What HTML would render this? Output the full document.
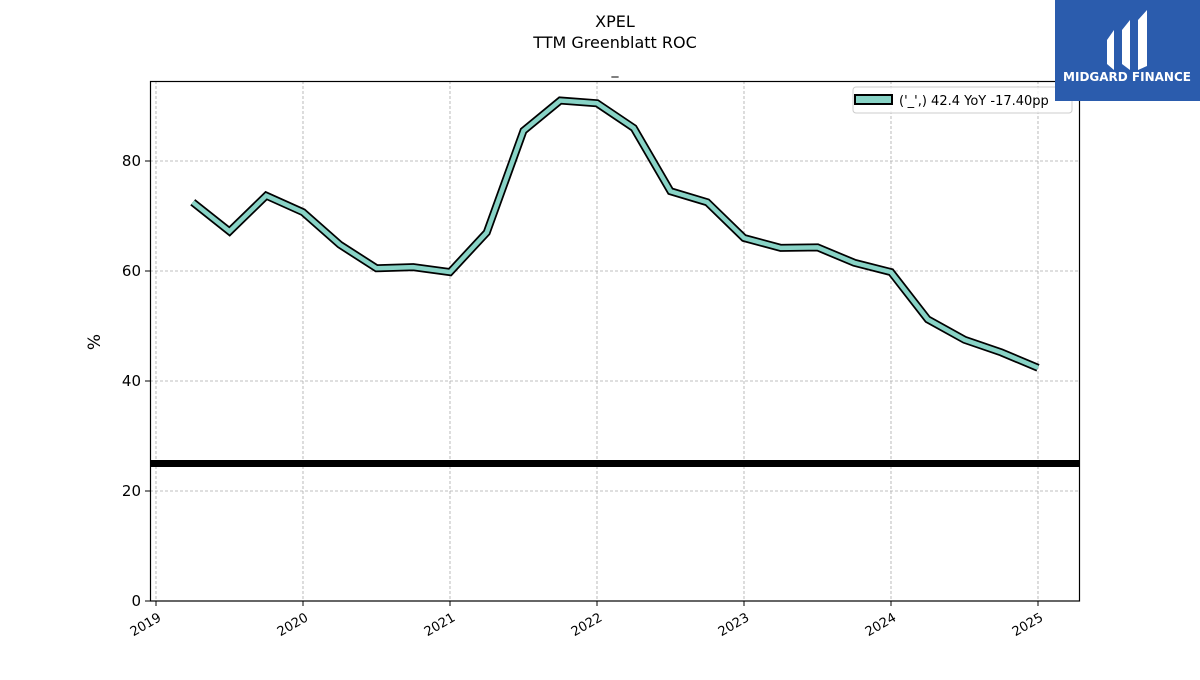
<!DOCTYPE html>
<html><head><meta charset="utf-8"><style>
body{margin:0;background:#fff;}
svg text{font-family:"DejaVu Sans","Liberation Sans",sans-serif;}
</style></head><body>
<svg id="chart" width="1200" height="675" xmlns="http://www.w3.org/2000/svg">
<text x="615" y="27" font-size="16" text-anchor="middle">XPEL</text>
<text x="615" y="48" font-size="16" text-anchor="middle">TTM Greenblatt ROC</text>
<text x="615" y="74" font-size="14" text-anchor="middle">_</text>
<g id="grid"></g>
<g id="axes"></g>
<g id="series"></g>
<rect x="150.5" y="81.5" width="929" height="519.5" fill="none" stroke="#000" stroke-width="1.2"/>
<text transform="translate(100,342) rotate(-90)" font-size="17" text-anchor="middle">%</text>
<g>
<rect x="853" y="87" width="219" height="26" rx="3" fill="#fff" fill-opacity="0.8" stroke="#ccc"/>
<rect x="855" y="95" width="37" height="9" fill="#88d3c6" stroke="#000" stroke-width="2"/>
<text x="899" y="105" font-size="13">('_',) 42.4 YoY -17.40pp</text>
</g>
<g>
<rect x="1055" y="0" width="145" height="101" fill="#2b5cad"/>
<path d="M1107 40 L1114 30 L1114 70 L1107 64 Z M1122 30 L1130 20 L1130 70 L1122 64 Z M1138 20 L1147 10 L1147 66 L1138 70 Z" fill="#fff"/>
<text x="1127" y="81" font-size="12" font-weight="bold" fill="#fff" text-anchor="middle">MIDGARD FINANCE</text>
</g>
</svg>
<script>
const dates=[2019.25,2019.5,2019.75,2020.0,2020.25,2020.5,2020.75,2021.0,2021.25,2021.5,2021.75,2022.0,2022.25,2022.5,2022.75,2023.0,2023.25,2023.5,2023.75,2024.0,2024.25,2024.5,2024.75,2025.0];
const roc=[72.5,67.2,73.7,70.7,64.8,60.5,60.7,59.8,67,85.5,91,90.5,86,74.5,72.5,66,64.2,64.3,61.5,59.8,51.2,47.5,45.2,42.4];
const yTicks=[0,20,40,60,80];
const xTicks=[2019,2020,2021,2022,2023,2024,2025];
const threshold=25;
const NS="http://www.w3.org/2000/svg";
const x=v=>156+(v-2019)*147;
const y=v=>601-v*5.5;
function mk(tag,attrs,parent){const e=document.createElementNS(NS,tag);for(const k in attrs)e.setAttribute(k,attrs[k]);parent.appendChild(e);return e;}
const grid=document.getElementById('grid'),axes=document.getElementById('axes'),ser=document.getElementById('series');
yTicks.forEach(t=>{
 const g=mk('line',{x1:150,x2:1080,y1:y(t),y2:y(t),stroke:'#aaa','stroke-dasharray':'3,2','stroke-width':0.8},grid);
 
 
 const tk=mk('line',{x1:145,x2:150,y1:y(t),y2:y(t),stroke:'#000'},axes);
 
 
 const tx=mk('text',{x:141,y:y(t)+5,'font-size':15,'text-anchor':'end'},axes);
 tx.textContent=t;
 
 
});
xTicks.forEach(t=>{
 const g=mk('line',{x1:x(t),x2:x(t),y1:81,y2:601,stroke:'#aaa','stroke-dasharray':'3,2','stroke-width':0.8},grid);
 
 
 const tk=mk('line',{x1:x(t),x2:x(t),y1:601,y2:606,stroke:'#000'},axes);
 
 
 const tx=mk('text',{x:x(t)+6,y:620,'font-size':13,'text-anchor':'end',transform:`rotate(-30 ${x(t)+6} 620)`},axes);
 tx.textContent=t;
 
 
});
const th=mk('line',{x1:150,x2:1080,y1:y(threshold),y2:y(threshold),stroke:'#000','stroke-width':7},ser);


const pts=dates.map((d,i)=>x(d)+','+y(roc[i])).join(' ');
const o=mk('polyline',{points:pts,fill:'none',stroke:'#000','stroke-width':8},ser);


const l=mk('polyline',{points:pts,fill:'none',stroke:'#88d3c6','stroke-width':4.5},ser);


</script>
</body></html>
